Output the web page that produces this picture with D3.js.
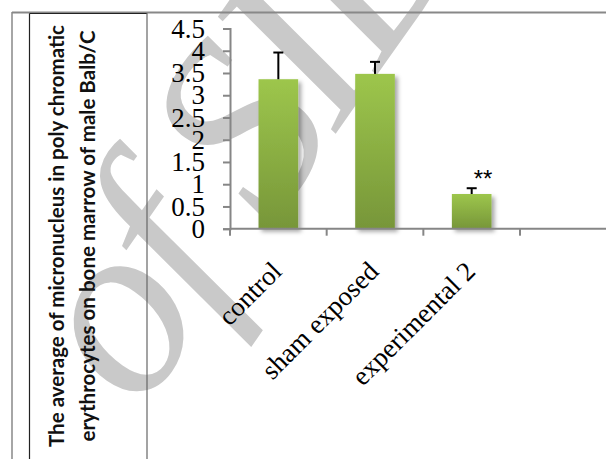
<!DOCTYPE html>
<html>
<head>
<meta charset="utf-8">
<script src="https://cdn.jsdelivr.net/npm/d3@7"></script>
<style>
	body { margin: 0; background: #fff; }
	svg { display: block; }
</style>
</head>
<body>
<svg id="chart" width="606" height="459"></svg>
<script>
// values
var categories = ['control', 'sham exposed', 'experimental 2', ''];
var means = [3.36, 3.48, 0.78, null];
var errors = [0.6, 0.27, 0.13, null];
var marks = ['', '', '**', ''];
var y_ticks = [0, 0.5, 1, 1.5, 2, 2.5, 3, 3.5, 4, 4.5];
var title_lines = ['The average of micronucleus in poly chromatic', 'erythrocytes on bone marrow of male Balb/C'];

var svg_elem = d3.select('#chart');
var width = +svg_elem.attr('width'), height = +svg_elem.attr('height');

var rows = categories.map(function(c, i) {
	return {name: c, mean: means[i], err: errors[i], mark: marks[i]};
});

// setup scales
var x_scale = d3.scaleBand().domain(categories).range([230, 616.7]).padding(0);
var y_scale = d3.scaleLinear().domain([0, 4.5]).range([228.7, 28.5]);
var bw = x_scale.bandwidth();

// defs: gradient for the bars and a soft shadow
var defs = svg_elem.append('defs');
var grad = defs.append('linearGradient').attr('id', 'bar_grad')
	.attr('x1', 0).attr('y1', 0).attr('x2', 0).attr('y2', 1);
grad.append('stop').attr('offset', '0%').attr('stop-color', '#9dc64c');
grad.append('stop').attr('offset', '100%').attr('stop-color', '#779639');
var shadow = defs.append('filter').attr('id', 'shade')
	.attr('x', '-20%').attr('y', '-20%').attr('width', '150%').attr('height', '150%');
shadow.append('feDropShadow').attr('dx', 3).attr('dy', 3).attr('stdDeviation', 2)
	.attr('flood-color', '#000').attr('flood-opacity', 0.35);

// watermark behind everything
svg_elem.append('text')
	.attr('transform', 'translate(140,413) rotate(-55)')
	.attr('font-family', 'Liberation Serif').attr('font-style', 'italic')
	.attr('font-size', 250).attr('letter-spacing', -10).attr('fill', '#c9c9c9')
	.text('of SID');

// table borders round the chart
svg_elem.append('line').attr('x1', 12).attr('y1', 12.5).attr('x2', width).attr('y2', 12.5)
	.attr('stroke', '#888').attr('stroke-width', 2);
svg_elem.append('line').attr('x1', 12).attr('y1', 12).attr('x2', 12).attr('y2', height)
	.attr('stroke', '#888').attr('stroke-width', 1.5);
svg_elem.append('line').attr('x1', 29.5).attr('y1', 13.5).attr('x2', 29.5).attr('y2', height)
	.attr('stroke', '#222').attr('stroke-width', 1.2);
svg_elem.append('line').attr('x1', 29.5).attr('y1', 13.5).attr('x2', 147).attr('y2', 13.5)
	.attr('stroke', '#222').attr('stroke-width', 1.2);
svg_elem.append('line').attr('x1', 147).attr('y1', 13).attr('x2', 147).attr('y2', height)
	.attr('stroke', '#666').attr('stroke-width', 1.2);

// y axis title, two rotated lines in the left cell
var title_len = [422, 411];
svg_elem.selectAll('text.ytitle').data(title_lines).enter().append('text')
	.attr('class', 'ytitle')
	.attr('transform', function(d, i) { return 'translate(' + (64 + i * 31) + ',236) rotate(-90)'; })
	.attr('text-anchor', 'middle')
	.attr('font-family', 'Lato').attr('font-weight', 700).attr('font-size', 21)
	.attr('textLength', function(d, i) { return title_len[i]; })
	.attr('lengthAdjust', 'spacingAndGlyphs')
	.attr('fill', '#111')
	.text(function(d) { return d; });

// y axis
var y_axis = svg_elem.append('g').attr('transform', 'translate(230,0)')
	.call(d3.axisLeft(y_scale).tickValues(y_ticks).tickSize(7).tickPadding(18)
		.tickFormat(function(d) { return String(d); }));
y_axis.select('.domain').attr('stroke', '#868686').attr('stroke-width', 2);
y_axis.selectAll('.tick line').attr('stroke', '#868686').attr('stroke-width', 2);
y_axis.selectAll('.tick text').attr('font-family', 'Liberation Serif').attr('font-size', 27)
	.attr('fill', '#000');

// bars
svg_elem.selectAll('rect.bar').data(rows.filter(function(d) { return d.mean != null; }))
	.enter().append('rect').attr('class', 'bar')
	.attr('x', function(d) { return x_scale(d.name) + bw * 0.295; })
	.attr('y', function(d) { return y_scale(d.mean); })
	.attr('width', bw * 0.41)
	.attr('height', function(d) { return y_scale(0) - y_scale(d.mean); })
	.attr('fill', 'url(#bar_grad)').attr('filter', 'url(#shade)');

// x axis: line plus ticks at the slot edges
var edges = categories.map(function(c) { return x_scale(c); }).concat([x_scale.range()[1]]);
svg_elem.append('line').attr('x1', 230).attr('y1', y_scale(0)).attr('x2', width).attr('y2', y_scale(0))
	.attr('stroke', '#868686').attr('stroke-width', 2);
svg_elem.selectAll('line.xtick').data(edges).enter().append('line').attr('class', 'xtick')
	.attr('x1', function(d) { return d; }).attr('x2', function(d) { return d; })
	.attr('y1', y_scale(0)).attr('y2', y_scale(0) + 7)
	.attr('stroke', '#868686').attr('stroke-width', 2);

// error bars, upper half only
var err_rows = rows.filter(function(d) { return d.err != null; });
svg_elem.selectAll('line.err').data(err_rows).enter().append('line').attr('class', 'err')
	.attr('x1', function(d) { return x_scale(d.name) + bw / 2; })
	.attr('x2', function(d) { return x_scale(d.name) + bw / 2; })
	.attr('y1', function(d) { return y_scale(d.mean); })
	.attr('y2', function(d) { return y_scale(d.mean + d.err); })
	.attr('stroke', '#000').attr('stroke-width', 2);
svg_elem.selectAll('line.cap').data(err_rows).enter().append('line').attr('class', 'cap')
	.attr('x1', function(d) { return x_scale(d.name) + bw / 2 - 5; })
	.attr('x2', function(d) { return x_scale(d.name) + bw / 2 + 5; })
	.attr('y1', function(d) { return y_scale(d.mean + d.err); })
	.attr('y2', function(d) { return y_scale(d.mean + d.err); })
	.attr('stroke', '#000').attr('stroke-width', 2);

// significance marks
svg_elem.selectAll('text.mark').data(rows.filter(function(d) { return d.mark; }))
	.enter().append('text').attr('class', 'mark')
	.attr('x', function(d) { return x_scale(d.name) + bw / 2 + 2; })
	.attr('y', function(d) { return y_scale(d.mean + d.err) - 1; })
	.attr('font-family', 'Liberation Sans').attr('font-size', 24)
	.text(function(d) { return d.mark; });

// category labels, rotated
svg_elem.selectAll('text.xlab').data(rows.filter(function(d) { return d.name; }))
	.enter().append('text').attr('class', 'xlab')
	.attr('transform', function(d) {
		return 'translate(' + (x_scale(d.name) + bw / 2 + 5) + ',273) rotate(-45)';
	})
	.attr('text-anchor', 'end')
	.attr('font-family', 'Liberation Serif').attr('font-size', 27)
	.text(function(d) { return d.name; });
</script>
</body>
</html>
